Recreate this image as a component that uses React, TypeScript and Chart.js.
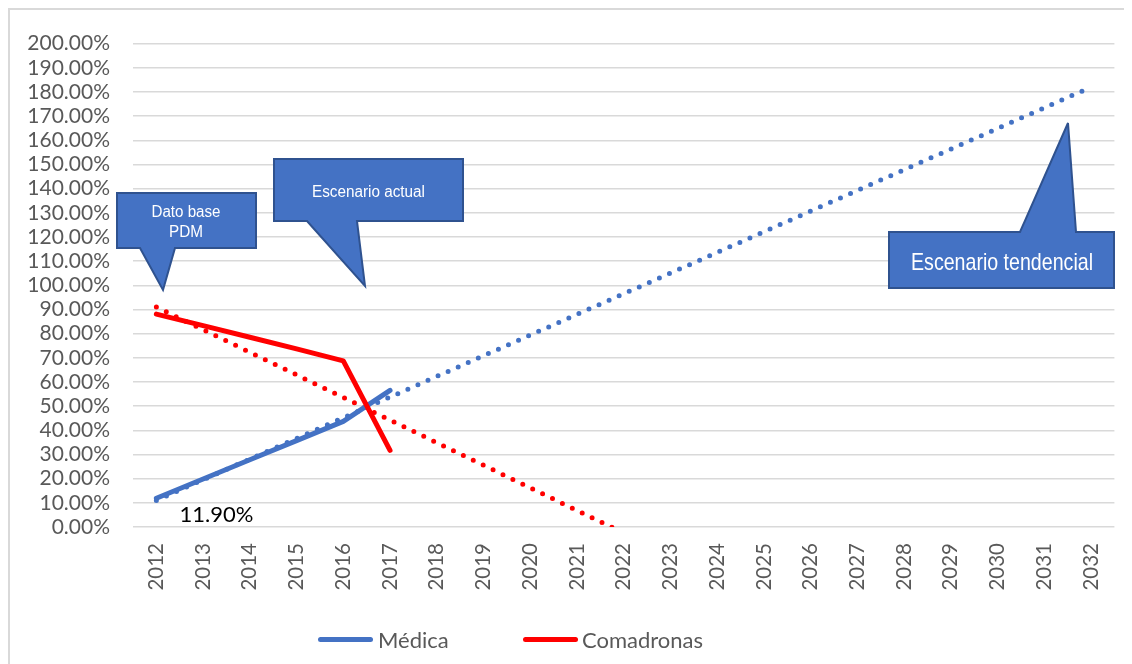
import React, { useEffect, useRef } from "react";
import { Chart, registerables } from "chart.js";

Chart.register(...registerables);

const years = [
  "2012", "2013", "2014", "2015", "2016", "2017", "2018", "2019", "2020", "2021", "2022",
  "2023", "2024", "2025", "2026", "2027", "2028", "2029", "2030", "2031", "2032",
];
const medica = [11.9, 19.85, 27.8, 35.75, 43.7, 56.5];
const comadronas = [88.1, 83.3, 78.5, 73.7, 68.7, 31.7];
const medicaTrend = [
  11, null, null, null, null, null, null, null, null, null, null,
  null, null, null, null, null, null, null, null, null, 182,
];
const comadronasTrend = [
  91, null, null, null, null, null, null, null, null, null, null,
  null, null, null, null, null, null, null, null, null, -96,
];
const yMin = 0;
const yMax = 200;
const yStep = 10;
const seriesNames = ["Médica", "Comadronas"];
const blue = "#4472C4";
const red = "#FF0000";

const dataLabelPlugin = {
  id: "dataLabel",
  afterDatasetsDraw(chart: any) {
    const meta = chart.getDatasetMeta(0);
    const pt = meta.data[0];
    if (!pt) return;
    const ctx = chart.ctx;
    ctx.save();
    ctx.font = "22px Lato";
    ctx.fillStyle = "#000000";
    ctx.textAlign = "center";
    ctx.textBaseline = "middle";
    ctx.fillText(medica[0].toFixed(2) + "%", pt.x + 60, pt.y + 17);
    ctx.restore();
  },
};

export default function App() {
  const ref = useRef<HTMLCanvasElement | null>(null);

  useEffect(() => {
    document.documentElement.style.overflow = "hidden";
    document.body.style.overflow = "hidden";
    const canvas = ref.current;
    if (!canvas) return;
    const chart = new Chart(canvas, {
      type: "line",
      data: {
        labels: years,
        datasets: [
          {
            label: seriesNames[0],
            data: medica,
            borderColor: blue,
            backgroundColor: blue,
            borderWidth: 5,
            borderCapStyle: "round",
            borderJoinStyle: "round",
            pointRadius: 0,
            order: 2,
          },
          {
            label: seriesNames[1],
            data: comadronas,
            borderColor: red,
            backgroundColor: red,
            borderWidth: 5,
            borderCapStyle: "round",
            borderJoinStyle: "round",
            pointRadius: 0,
            order: 1,
          },
          {
            label: "trend1",
            data: medicaTrend,
            borderColor: blue,
            borderWidth: 5,
            borderDash: [0, 11],
            borderCapStyle: "round",
            pointRadius: 0,
            spanGaps: true,
            order: 4,
            clip: 0,
          },
          {
            label: "trend2",
            data: comadronasTrend,
            borderColor: red,
            borderWidth: 5,
            borderDash: [0, 11],
            borderCapStyle: "round",
            pointRadius: 0,
            spanGaps: true,
            order: 3,
            clip: 0,
          },
        ],
      },
      options: {
        responsive: false,
        animation: false,
        devicePixelRatio: 1,
        layout: { padding: { top: 30, right: 15, left: 0, bottom: 0 } },
        plugins: {
          legend: { display: false },
          tooltip: { enabled: false },
          title: { display: false },
        },
        scales: {
          x: {
            type: "category",
            offset: true,
            grid: { display: false, drawTicks: false },
            border: { display: false },
            ticks: {
              color: "#595959",
              font: { family: "Lato", size: 20.5 },
              minRotation: 90,
              maxRotation: 90,
              autoSkip: false,
              padding: 16,
            },
            afterFit(scale: any) {
              scale.height = 137;
            },
          },
          y: {
            min: yMin,
            max: yMax,
            grid: { color: "#d9d9d9", lineWidth: 1.5, drawTicks: false },
            border: { display: false },
            ticks: {
              stepSize: yStep,
              autoSkip: false,
              color: "#595959",
              font: { family: "Lato", size: 21 },
              padding: 23,
              callback: (v: any) => Number(v).toFixed(2) + "%",
            },
            afterFit(scale: any) {
              scale.width = 125;
            },
          },
        },
      },
      plugins: [dataLabelPlugin],
    } as any);
    return () => chart.destroy();
  }, []);

  const calloutStyle = { fill: blue, stroke: "#2F528F", strokeWidth: 2 } as any;
  const textProps = {
    fill: "#ffffff",
    fontFamily: "Liberation Sans, Arial, sans-serif",
    textAnchor: "middle",
    lengthAdjust: "spacingAndGlyphs",
  } as any;

  return (
    <div style={{ position: "relative", width: 1124, height: 656, overflow: "visible" }}>
      <canvas ref={ref} width={1124} height={656} style={{ display: "block" }} />
      <div
        style={{
          position: "absolute",
          left: 0,
          top: 0,
          width: 1124,
          height: 656,
          boxSizing: "border-box",
          borderTop: "2px solid #d9d9d9",
          borderLeft: "2px solid #d9d9d9",
          pointerEvents: "none",
        }}
      />
      <svg
        width={1132}
        height={664}
        style={{ position: "absolute", left: -8, top: -8, pointerEvents: "none" }}
      >
        <path d="M117,193 H256 V248 H175 L163,290 L140,248 H117 Z" style={calloutStyle} />
        <text x={186} y={216.5} fontSize={16} textLength={69} {...textProps}>Dato base</text>
        <text x={186} y={237} fontSize={16} textLength={34} {...textProps}>PDM</text>
        <path d="M274,159 H463 V221 H357 L365,286 L307,221 H274 Z" style={calloutStyle} />
        <text x={368.5} y={196.5} fontSize={16} textLength={113} {...textProps}>Escenario actual</text>
        <path d="M889,232 H1020 L1068,123 L1076,232 H1114 V288 H889 Z" style={calloutStyle} />
        <text x={1002} y={270} fontSize={24} textLength={182} {...textProps}>Escenario tendencial</text>
      </svg>
      {/* legend */}
      <div style={{ position: "absolute", left: 310, top: 629, width: 55, height: 5, borderRadius: 3, background: blue }} />
      <div style={{ position: "absolute", left: 370, top: 619, lineHeight: "26px", fontFamily: "Lato", fontSize: 22, color: "#595959", whiteSpace: "nowrap" }}>
        {seriesNames[0]}
      </div>
      <div style={{ position: "absolute", left: 515, top: 629, width: 55, height: 5, borderRadius: 3, background: red }} />
      <div style={{ position: "absolute", left: 574, top: 619, lineHeight: "26px", fontFamily: "Lato", fontSize: 22, color: "#595959", whiteSpace: "nowrap" }}>
        {seriesNames[1]}
      </div>
    </div>
  );
}
